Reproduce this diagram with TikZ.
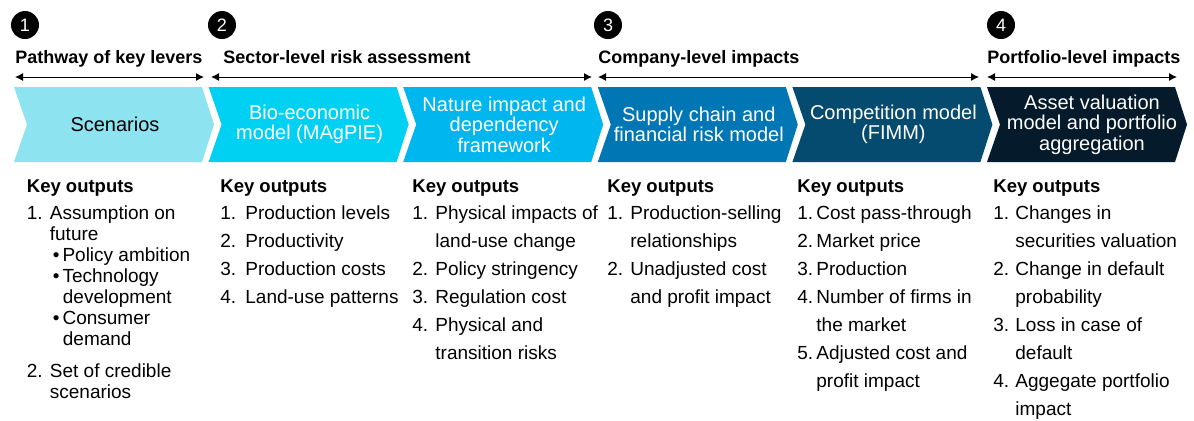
\documentclass[tikz,border=0pt]{standalone}
\usepackage{fontspec}
\setmainfont{Liberation Sans}
\usepackage{xcolor}
\usepackage{tikz}
\usetikzlibrary{arrows.meta,positioning,calc}

\definecolor{scencol}{HTML}{8DE3F0}
\definecolor{biocol}{HTML}{00D1F2}
\definecolor{natcol}{HTML}{00B6EF}
\definecolor{supcol}{HTML}{0077B4}
\definecolor{comcol}{HTML}{054A6F}
\definecolor{assetcol}{HTML}{051B2C}

\begin{document}
\begin{tikzpicture}[
  x=0.5pt, y=-0.5pt,
  num/.style={circle, fill=black, text=white, minimum size=14pt, inner sep=0pt, font=\fontsize{9}{9}\selectfont},
  phase/.style={anchor=base west, inner sep=0pt, font=\bfseries\fontsize{9}{10}\selectfont},
  span/.style={{Latex[length=4pt,width=4pt]}-{Latex[length=4pt,width=4pt]}, line width=0.5pt},
  lbl/.style={align=center, inner sep=0pt, font=\fontsize{10}{10.25}\selectfont},
  outs/.style={anchor=base west, inner sep=0pt, font=\fontsize{9.5}{14}\selectfont}
]
  \useasboundingbox (0,0) rectangle (1194,420);

  \node[num] (n1) at (25,25) {1};
  \node[num] (n2) at (222,25) {2};
  \node[num] (n3) at (608,25) {3};
  \node[num] (n4) at (1001,25) {4};

  \node[phase] (p1) at (15,63) {Pathway of key levers};
  \node[phase] (p2) at (223,63) {Sector-level risk assessment};
  \node[phase] (p3) at (598,63) {Company-level impacts};
  \node[phase] (p4) at (987,63) {Portfolio-level impacts};

  \coordinate (s1a) at (15,77);  \coordinate (s1b) at (204,77);
  \coordinate (s2a) at (211,77); \coordinate (s2b) at (592,77);
  \coordinate (s3a) at (598,77); \coordinate (s3b) at (979,77);
  \coordinate (s4a) at (987,77); \coordinate (s4b) at (1177,77);
  \draw[span] (s1a) -- (s1b);
  \draw[span] (s2a) -- (s2b);
  \draw[span] (s3a) -- (s3b);
  \draw[span] (s4a) -- (s4b);

  \foreach \n/\xl/\tx/\col/\tc/\txt in {
    1/14/101/scencol/black/Scenarios,
    2/208.6/101/biocol/white/{Bio-economic\\model (MAgPIE)},
    3/403.2/101/natcol/white/{Nature impact and\\dependency\\framework},
    4/597.8/101/supcol/white/{Supply chain and\\financial risk model},
    5/792.4/101/comcol/white/{Competition model\\(FIMM)},
    6/987/105/assetcol/white/{Asset valuation\\model and portfolio\\aggregation}}
  {
    \fill[\col] (\xl,87) -- ++(188,0) -- ++(12,37.5) -- ++(-12,37.5) -- ++(-188,0) -- ++(13,-37.5) -- cycle;
    \node[lbl, text=\tc] (lvl\n) at (\xl+\tx,124.5) {\txt};
  }

  \node[outs, font=\fontsize{9.5}{10.5}\selectfont] (out1) at (26.5,192) {%
    \begin{tabular}[t]{@{}p{11.5pt}@{}l@{}}
      \multicolumn{2}{@{}l@{}}{\bfseries\fontsize{9.25}{10}\selectfont Key outputs}\\[3pt]
      1. & Assumption on\\
         & future\\
         & \hspace{1.5pt}\textbullet\hspace{1.5pt}Policy ambition\\
         & \hspace{1.5pt}\textbullet\hspace{1.5pt}Technology\\
         & \hspace{6.5pt}development\\
         & \hspace{1.5pt}\textbullet\hspace{1.5pt}Consumer\\
         & \hspace{6.5pt}demand\\[5.5pt]
      2. & Set of credible\\
         & scenarios
    \end{tabular}};

  \node[outs] (out2) at (220,192) {%
    \begin{tabular}[t]{@{}p{12.5pt}@{}l@{}}
      \multicolumn{2}{@{}l@{}}{\bfseries\fontsize{9.25}{10}\selectfont Key outputs}\\[-0.5pt]
      1. & Production levels\\
      2. & Productivity\\
      3. & Production costs\\
      4. & Land-use patterns
    \end{tabular}};

  \node[outs] (out3) at (412,192) {%
    \begin{tabular}[t]{@{}p{11.5pt}@{}l@{}}
      \multicolumn{2}{@{}l@{}}{\bfseries\fontsize{9.25}{10}\selectfont Key outputs}\\[-0.5pt]
      1. & Physical impacts of\\
         & land-use change\\
      2. & Policy stringency\\
      3. & Regulation cost\\
      4. & Physical and\\
         & transition risks
    \end{tabular}};

  \node[outs] (out4) at (607,192) {%
    \begin{tabular}[t]{@{}p{11.5pt}@{}l@{}}
      \multicolumn{2}{@{}l@{}}{\bfseries\fontsize{9.25}{10}\selectfont Key outputs}\\[-0.5pt]
      1. & Production-selling\\
         & relationships\\
      2. & Unadjusted cost\\
         & and profit impact
    \end{tabular}};

  \node[outs] (out5) at (797,192) {%
    \begin{tabular}[t]{@{}p{9.5pt}@{}l@{}}
      \multicolumn{2}{@{}l@{}}{\bfseries\fontsize{9.25}{10}\selectfont Key outputs}\\[-0.5pt]
      1. & Cost pass-through\\
      2. & Market price\\
      3. & Production\\
      4. & Number of firms in\\
         & the market\\
      5. & Adjusted cost and\\
         & profit impact
    \end{tabular}};

  \node[outs] (out6) at (993,192) {%
    \begin{tabular}[t]{@{}p{11pt}@{}l@{}}
      \multicolumn{2}{@{}l@{}}{\bfseries\fontsize{9.25}{10}\selectfont Key outputs}\\[-0.5pt]
      1. & Changes in\\
         & securities valuation\\
      2. & Change in default\\
         & probability\\
      3. & Loss in case of\\
         & default\\
      4. & Aggegate portfolio\\
         & impact
    \end{tabular}};
\end{tikzpicture}
\end{document}
